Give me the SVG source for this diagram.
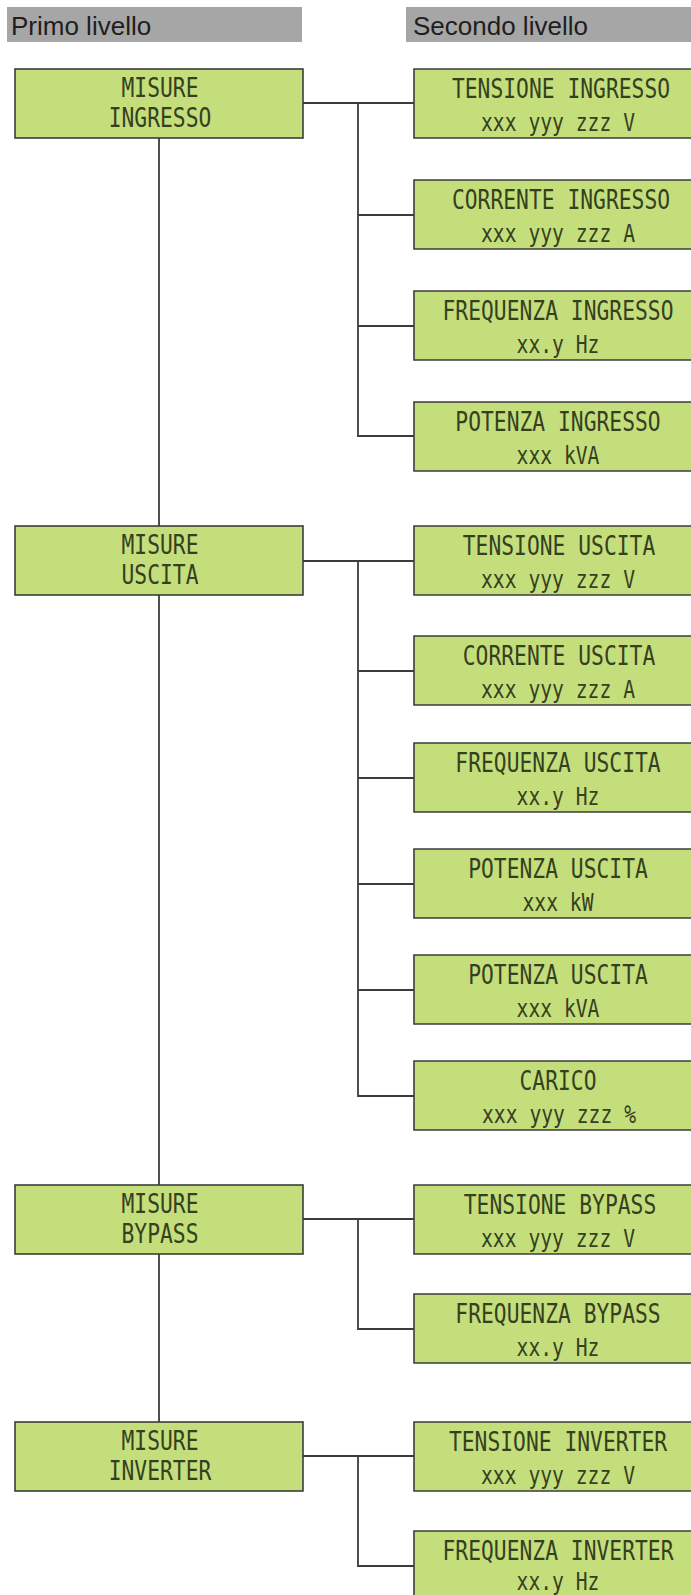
<svg xmlns="http://www.w3.org/2000/svg" width="691" height="1595" viewBox="0 0 691 1595">
<style>
.hdr{fill:#a6a6a6}
.ht{font-family:"Liberation Sans",Arial,sans-serif;font-size:26px;fill:#1e1e1e}
.box{fill:#c4de7c;stroke:#3c3c3c;stroke-width:1.6}
.bf{fill:#c4de7c}
.bb{fill:none;stroke:#3c3c3c;stroke-width:1.6}
.lcd{font-family:"DejaVu Sans Mono",monospace;fill:#35401f;text-anchor:middle}
.l1{font-size:26px}
.l2{font-size:24px}
.c{stroke:#3c3c3c;stroke-width:1.8;fill:none}
</style>
<rect width="691" height="1595" fill="#ffffff"/>
<g id="headers">
<rect class="hdr" x="7" y="7" width="295" height="35"/>
<text class="ht" x="11" y="35">Primo livello</text>
<rect class="hdr" x="406" y="7" width="285" height="35"/>
<text class="ht" x="413" y="35">Secondo livello</text>
</g>
<g id="connectors">
<line class="c" x1="159" y1="138" x2="159" y2="1422"/>
<polyline class="c" points="303,103 414,103"/>
<polyline class="c" points="358,103 358,436 414,436"/>
<line class="c" x1="358" y1="215" x2="414" y2="215"/>
<line class="c" x1="358" y1="326" x2="414" y2="326"/>
<polyline class="c" points="303,561 414,561"/>
<polyline class="c" points="358,561 358,1096 414,1096"/>
<line class="c" x1="358" y1="671" x2="414" y2="671"/>
<line class="c" x1="358" y1="778" x2="414" y2="778"/>
<line class="c" x1="358" y1="884" x2="414" y2="884"/>
<line class="c" x1="358" y1="990" x2="414" y2="990"/>
<polyline class="c" points="303,1219 414,1219"/>
<polyline class="c" points="358,1219 358,1329 414,1329"/>
<polyline class="c" points="303,1456 414,1456"/>
<polyline class="c" points="358,1456 358,1566 414,1566"/>
</g>
<g id="n-misure-ingresso">
<rect class="box" x="15" y="69" width="288" height="69"/>
<text class="lcd l1" transform="translate(160,97) scale(0.82,1)">MISURE</text>
<text class="lcd l1" transform="translate(160,127) scale(0.82,1)">INGRESSO</text>
</g>
<g id="n-misure-uscita">
<rect class="box" x="15" y="526" width="288" height="69"/>
<text class="lcd l1" transform="translate(160,554) scale(0.82,1)">MISURE</text>
<text class="lcd l1" transform="translate(160,584) scale(0.82,1)">USCITA</text>
</g>
<g id="n-misure-bypass">
<rect class="box" x="15" y="1185" width="288" height="69"/>
<text class="lcd l1" transform="translate(160,1213) scale(0.82,1)">MISURE</text>
<text class="lcd l1" transform="translate(160,1243) scale(0.82,1)">BYPASS</text>
</g>
<g id="n-misure-inverter">
<rect class="box" x="15" y="1422" width="288" height="69"/>
<text class="lcd l1" transform="translate(160,1450) scale(0.82,1)">MISURE</text>
<text class="lcd l1" transform="translate(160,1480) scale(0.82,1)">INVERTER</text>
</g>
<g id="n-tensione-ingresso">
<rect class="bf" x="414" y="69" width="277" height="69"/>
<path class="bb" d="M691,69 H414 V138 H691"/>
<text class="lcd l1" transform="translate(561,98) scale(0.82,1)">TENSIONE INGRESSO</text>
<text class="lcd l2" transform="translate(558,131) scale(0.82,1)">xxx yyy zzz V</text>
</g>
<g id="n-corrente-ingresso">
<rect class="bf" x="414" y="180" width="277" height="69"/>
<path class="bb" d="M691,180 H414 V249 H691"/>
<text class="lcd l1" transform="translate(561,209) scale(0.82,1)">CORRENTE INGRESSO</text>
<text class="lcd l2" transform="translate(558,242) scale(0.82,1)">xxx yyy zzz A</text>
</g>
<g id="n-frequenza-ingresso">
<rect class="bf" x="414" y="291" width="277" height="69"/>
<path class="bb" d="M691,291 H414 V360 H691"/>
<text class="lcd l1" transform="translate(558,320) scale(0.82,1)">FREQUENZA INGRESSO</text>
<text class="lcd l2" transform="translate(558,353) scale(0.82,1)">xx.y Hz</text>
</g>
<g id="n-potenza-ingresso">
<rect class="bf" x="414" y="402" width="277" height="69"/>
<path class="bb" d="M691,402 H414 V471 H691"/>
<text class="lcd l1" transform="translate(558,431) scale(0.82,1)">POTENZA INGRESSO</text>
<text class="lcd l2" transform="translate(558,464) scale(0.82,1)">xxx kVA</text>
</g>
<g id="n-tensione-uscita">
<rect class="bf" x="414" y="526" width="277" height="69"/>
<path class="bb" d="M691,526 H414 V595 H691"/>
<text class="lcd l1" transform="translate(559,555) scale(0.82,1)">TENSIONE USCITA</text>
<text class="lcd l2" transform="translate(558,588) scale(0.82,1)">xxx yyy zzz V</text>
</g>
<g id="n-corrente-uscita">
<rect class="bf" x="414" y="636" width="277" height="69"/>
<path class="bb" d="M691,636 H414 V705 H691"/>
<text class="lcd l1" transform="translate(559,665) scale(0.82,1)">CORRENTE USCITA</text>
<text class="lcd l2" transform="translate(558,698) scale(0.82,1)">xxx yyy zzz A</text>
</g>
<g id="n-frequenza-uscita">
<rect class="bf" x="414" y="743" width="277" height="69"/>
<path class="bb" d="M691,743 H414 V812 H691"/>
<text class="lcd l1" transform="translate(558,772) scale(0.82,1)">FREQUENZA USCITA</text>
<text class="lcd l2" transform="translate(558,805) scale(0.82,1)">xx.y Hz</text>
</g>
<g id="n-potenza-uscita-kw">
<rect class="bf" x="414" y="849" width="277" height="69"/>
<path class="bb" d="M691,849 H414 V918 H691"/>
<text class="lcd l1" transform="translate(558,878) scale(0.82,1)">POTENZA USCITA</text>
<text class="lcd l2" transform="translate(558,911) scale(0.82,1)">xxx kW</text>
</g>
<g id="n-potenza-uscita-kva">
<rect class="bf" x="414" y="955" width="277" height="69"/>
<path class="bb" d="M691,955 H414 V1024 H691"/>
<text class="lcd l1" transform="translate(558,984) scale(0.82,1)">POTENZA USCITA</text>
<text class="lcd l2" transform="translate(558,1017) scale(0.82,1)">xxx kVA</text>
</g>
<g id="n-carico">
<rect class="bf" x="414" y="1061" width="277" height="69"/>
<path class="bb" d="M691,1061 H414 V1130 H691"/>
<text class="lcd l1" transform="translate(558,1090) scale(0.82,1)">CARICO</text>
<text class="lcd l2" transform="translate(559,1123) scale(0.82,1)">xxx yyy zzz %</text>
</g>
<g id="n-tensione-bypass">
<rect class="bf" x="414" y="1185" width="277" height="69"/>
<path class="bb" d="M691,1185 H414 V1254 H691"/>
<text class="lcd l1" transform="translate(560,1214) scale(0.82,1)">TENSIONE BYPASS</text>
<text class="lcd l2" transform="translate(558,1247) scale(0.82,1)">xxx yyy zzz V</text>
</g>
<g id="n-frequenza-bypass">
<rect class="bf" x="414" y="1294" width="277" height="69"/>
<path class="bb" d="M691,1294 H414 V1363 H691"/>
<text class="lcd l1" transform="translate(558,1323) scale(0.82,1)">FREQUENZA BYPASS</text>
<text class="lcd l2" transform="translate(558,1356) scale(0.82,1)">xx.y Hz</text>
</g>
<g id="n-tensione-inverter">
<rect class="bf" x="414" y="1422" width="277" height="69"/>
<path class="bb" d="M691,1422 H414 V1491 H691"/>
<text class="lcd l1" transform="translate(558,1451) scale(0.82,1)">TENSIONE INVERTER</text>
<text class="lcd l2" transform="translate(558,1484) scale(0.82,1)">xxx yyy zzz V</text>
</g>
<g id="n-frequenza-inverter">
<rect class="bf" x="414" y="1531" width="277" height="64"/>
<path class="bb" d="M691,1531 H414 V1595"/>
<text class="lcd l1" transform="translate(558,1560) scale(0.82,1)">FREQUENZA INVERTER</text>
<text class="lcd l2" transform="translate(558,1590) scale(0.82,1)">xx.y Hz</text>
</g>
</svg>
